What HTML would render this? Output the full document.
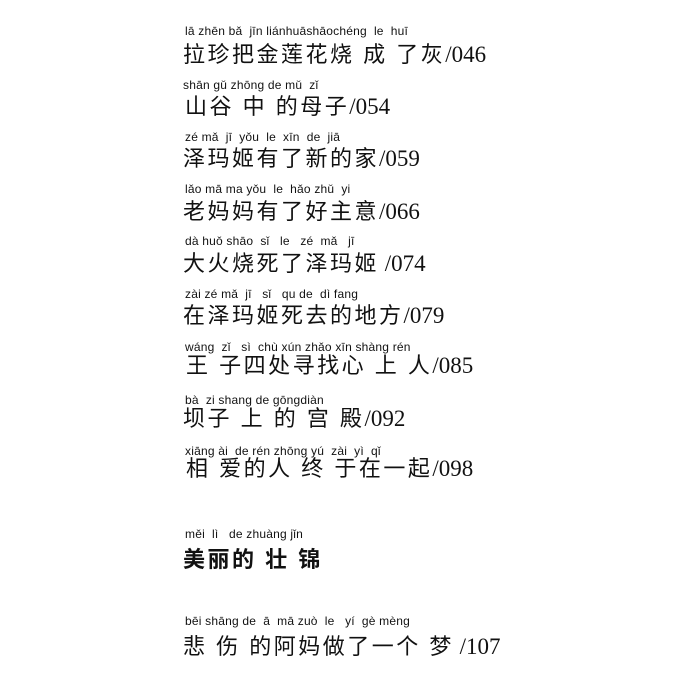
<!DOCTYPE html>
<html><head><meta charset="utf-8"><style>
body{margin:0;width:700px;height:700px;background:#fff;position:relative;overflow:hidden;color:#111}
.p{position:absolute;left:185px;font:12px "Liberation Sans",sans-serif;white-space:pre;letter-spacing:0.2px}
.h{position:absolute;left:183px;font:22px "Liberation Sans","Noto Sans CJK SC",sans-serif;white-space:pre;letter-spacing:2.5px}
.n{font-family:"Liberation Serif",serif;font-size:23px;letter-spacing:0}
</style></head><body>
<div class="p" style="top:24px">lā zhēn bǎ  jīn liánhuāshāochéng  le  huī</div>
<div class="h" style="top:37px">拉珍把金莲花烧 成 了灰<span class="n">/046</span></div>
<div class="p" style="top:78px;left:183px">shān gǔ zhōng de mǔ  zǐ</div>
<div class="h" style="top:89px;left:185px">山谷 中 的母子<span class="n">/054</span></div>
<div class="p" style="top:130px">zé mǎ  jī  yǒu  le  xīn  de  jiā</div>
<div class="h" style="top:141px">泽玛姬有了新的家<span class="n">/059</span></div>
<div class="p" style="top:182px">lǎo mā ma yǒu  le  hǎo zhǔ  yi</div>
<div class="h" style="top:194px">老妈妈有了好主意<span class="n">/066</span></div>
<div class="p" style="top:234px">dà huǒ shāo  sǐ   le   zé  mǎ   jī</div>
<div class="h" style="top:246px">大火烧死了泽玛姬<span class="n"> /074</span></div>
<div class="p" style="top:287px">zài zé mǎ  jī   sǐ   qu de  dì fang</div>
<div class="h" style="top:298px">在泽玛姬死去的地方<span class="n">/079</span></div>
<div class="p" style="top:340px">wáng  zǐ   sì  chù xún zhǎo xīn shàng rén</div>
<div class="h" style="top:348px;left:186px">王 子四处寻找心 上 人<span class="n">/085</span></div>
<div class="p" style="top:393px">bà  zi shang de gōngdiàn</div>
<div class="h" style="top:401px">坝子 上 的 宫 殿<span class="n">/092</span></div>
<div class="p" style="top:444px">xiāng ài  de rén zhōng yú  zài  yì  qǐ</div>
<div class="h" style="top:451px;left:186px">相 爱的人 终 于在一起<span class="n">/098</span></div>
<div class="p" style="top:527px">měi  lì   de zhuàng jǐn</div>
<div class="h" style="top:542px;font-weight:bold">美丽的 壮 锦</div>
<div class="p" style="top:614px">bēi shāng de  ā  mā zuò  le   yí  gè mèng</div>
<div class="h" style="top:629px">悲 伤 的阿妈做了一个 梦<span class="n"> /107</span></div>
</body></html>
